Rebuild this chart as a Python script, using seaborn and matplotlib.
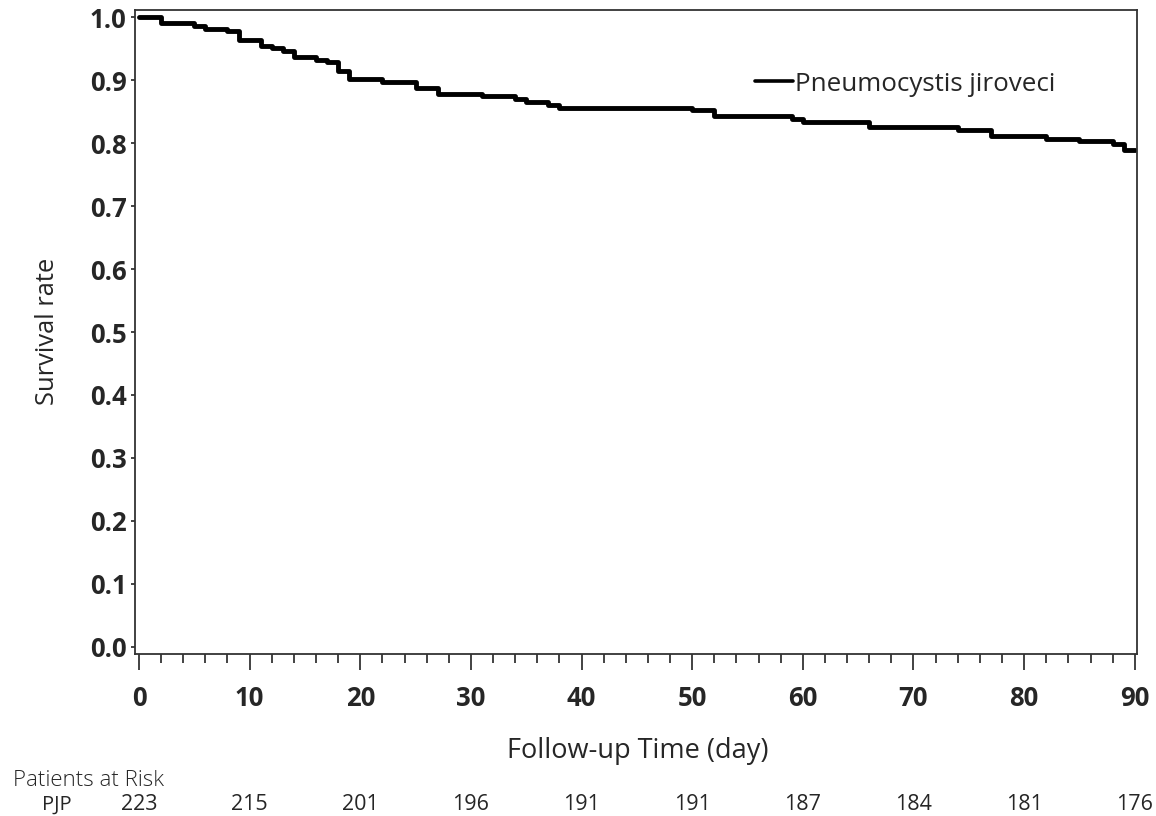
import matplotlib
matplotlib.use("Agg")
import matplotlib.pyplot as plt
import matplotlib.transforms as mtransforms
from matplotlib.ticker import MultipleLocator
import seaborn as sns
import pandas as pd

# ---- data ----
total_patients = 223
event_days = [0, 2, 5, 6, 8, 9, 11, 12, 13, 14, 16, 17, 18, 19, 22, 25, 27, 31, 34, 35,
              37, 38, 50, 52, 59, 60, 66, 74, 77, 82, 85, 88, 89, 90]
remaining = [223, 221, 220, 219, 218, 215, 213, 212, 211, 209, 208, 207, 204, 201, 200,
             198, 196, 195, 194, 193, 192, 191, 190, 188, 187, 186, 184, 183, 181, 180,
             179, 178, 176, 176]
series_label = "Pneumocystis jiroveci"
risk_days = [0, 10, 20, 30, 40, 50, 60, 70, 80, 90]
risk_counts = [223, 215, 201, 196, 191, 191, 187, 184, 181, 176]
risk_group = "PJP"
y_ticks = [0.0, 0.1, 0.2, 0.3, 0.4, 0.5, 0.6, 0.7, 0.8, 0.9, 1.0]

df = pd.DataFrame({"day": event_days,
                   "survival": [r / total_patients for r in remaining]})

sns.set_style("ticks")
plt.rcParams["font.family"] = ["Open Sans", "DejaVu Sans"]
narrow = ["Liberation Sans Narrow", "Open Sans", "DejaVu Sans"]

fig = plt.figure(figsize=(11.56, 8.16), dpi=100)
ax = fig.add_axes([135 / 1156, 1 - 653.7 / 816, (1137 - 135) / 1156, (653.7 - 10) / 816])

sns.lineplot(data=df, x="day", y="survival", ax=ax, color="black", linewidth=3.5,
             drawstyle="steps-post", estimator=None, label=series_label)

ax.set_xlim(-0.36, 90.2)
ax.set_ylim(-0.0111, 1.0116)
ax.set_yticks(y_ticks)
ax.set_yticklabels([f"{v:.1f}" for v in y_ticks])
ax.xaxis.set_major_locator(MultipleLocator(10))
ax.xaxis.set_minor_locator(MultipleLocator(2))

for side in ["top", "right", "left", "bottom"]:
    ax.spines[side].set_visible(True)
    ax.spines[side].set_color("#333333")
    ax.spines[side].set_linewidth(1.3)

ax.tick_params(axis="x", which="major", direction="out", length=11.5, width=1.2,
               color="#222222", pad=11)
ax.tick_params(axis="x", which="minor", direction="out", length=6.5, width=1.2,
               color="#222222")
ax.tick_params(axis="y", which="major", direction="out", length=3, width=1.2,
               color="#222222", pad=3)
for lab in ax.get_xticklabels() + ax.get_yticklabels():
    lab.set_family(narrow)
    lab.set_fontweight("bold")
    lab.set_fontsize(18.5)

ax.set_xlabel("Follow-up Time (day)", fontsize=19.5)
ax.set_ylabel("Survival rate", fontsize=18.4)
ax.xaxis.set_label_coords(0.502, -0.1294)
ax.yaxis.set_label_coords(-0.075, 0.501)

leg = ax.legend(loc="center left", bbox_to_anchor=(0.6085, 0.885), frameon=False,
                fontsize=18.7, handlelength=1.45, handletextpad=0.1, borderaxespad=0)
for h in leg.get_lines():
    h.set_linewidth(2.6)

# patients at risk table
fig.text(12.7 / 1156, 1 - 781 / 816, "Patients at Risk", fontsize=16, fontweight="light",
         ha="left", va="center")
fig.text(57 / 1156, 1 - 805 / 816, risk_group, fontsize=14.5, family=narrow,
         ha="center", va="center")
trans = mtransforms.blended_transform_factory(ax.transData, fig.transFigure)
for d, c in zip(risk_days, risk_counts):
    ax.text(d, 1 - 805 / 816, str(c), transform=trans, fontsize=15.5, family=narrow,
            ha="center", va="center", clip_on=False)

fig.savefig("out.png", dpi=100)
